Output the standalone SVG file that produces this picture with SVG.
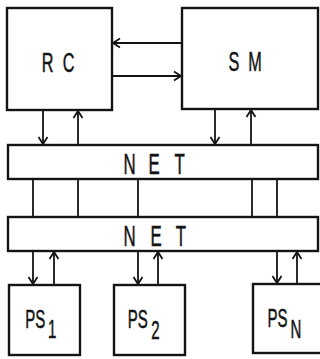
<svg xmlns="http://www.w3.org/2000/svg" width="320" height="359" viewBox="0 0 320 359">
<style>
.box{fill:#fff;stroke:#141414;stroke-width:2.4}
.ln{fill:none;stroke:#141414;stroke-width:1.8}
.arr{marker-end:url(#ah)}
text{font-family:"Liberation Sans",Arial,sans-serif;fill:#141414;stroke:#141414;stroke-width:0.5}
.big{font-size:28px}
.net{font-size:29px}
.ps{font-size:25px}
</style>
<defs>
<marker id="ah" markerUnits="userSpaceOnUse" viewBox="0 0 12 12" refX="10" refY="6" markerWidth="12" markerHeight="12" orient="auto">
<path d="M3,1.5 L10,6 L3,10.5" fill="none" stroke="#141414" stroke-width="1.8"/>
</marker>
</defs>
<rect width="320" height="359" fill="#fff"/>
<g id="connectors">
<line class="ln arr" x1="182" y1="43" x2="113" y2="43"/>
<line class="ln arr" x1="112" y1="76" x2="181" y2="76"/>
<line class="ln arr" x1="43" y1="110" x2="43" y2="144"/>
<line class="ln arr" x1="78" y1="145" x2="78" y2="111"/>
<line class="ln arr" x1="215" y1="109" x2="215" y2="144"/>
<line class="ln arr" x1="251" y1="145" x2="251" y2="110"/>
<line class="ln" x1="33" y1="179" x2="33" y2="217"/>
<line class="ln" x1="78" y1="179" x2="78" y2="217"/>
<line class="ln" x1="138" y1="179" x2="138" y2="217"/>
<line class="ln" x1="252" y1="179" x2="252" y2="217"/>
<line class="ln" x1="277" y1="179" x2="277" y2="217"/>
<line class="ln arr" x1="33" y1="251" x2="33" y2="284"/>
<line class="ln arr" x1="54" y1="285" x2="54" y2="252"/>
<line class="ln arr" x1="138" y1="251" x2="138" y2="284"/>
<line class="ln arr" x1="158" y1="285" x2="158" y2="252"/>
<line class="ln arr" x1="277" y1="251" x2="277" y2="283"/>
<line class="ln arr" x1="297" y1="284" x2="297" y2="252"/>
</g>
<g id="RC">
<rect class="box" x="7" y="8" width="105" height="102"/>
<text class="big" transform="scale(0.58 1)" x="72 108" y="72">RC</text>
</g>
<g id="SM">
<rect class="box" x="182" y="8" width="136" height="101"/>
<text class="big" transform="scale(0.58 1)" x="394 428" y="71">SM</text>
</g>
<g id="NET1">
<rect class="box" x="8" y="145" width="310" height="34"/>
<text class="net" transform="scale(0.58 1)" x="213 256 301" y="174">NET</text>
</g>
<g id="NET2">
<rect class="box" x="8" y="217" width="310" height="34"/>
<text class="net" transform="scale(0.58 1)" x="213 259.5 303" y="246">NET</text>
</g>
<g id="PS1">
<rect class="box" x="9" y="285" width="71" height="70"/>
<text class="ps" transform="scale(0.6 1)" y="328"><tspan x="42">PS</tspan><tspan x="80" y="338">1</tspan></text>
</g>
<g id="PS2">
<rect class="box" x="114" y="285" width="71" height="70"/>
<text class="ps" transform="scale(0.6 1)" y="328"><tspan x="213">PS</tspan><tspan x="252" y="339">2</tspan></text>
</g>
<g id="PSN">
<rect class="box" x="253" y="284" width="80" height="69"/>
<text class="ps" transform="scale(0.6 1)" y="327"><tspan x="446">PS</tspan><tspan x="484" y="338">N</tspan></text>
</g>
</svg>
